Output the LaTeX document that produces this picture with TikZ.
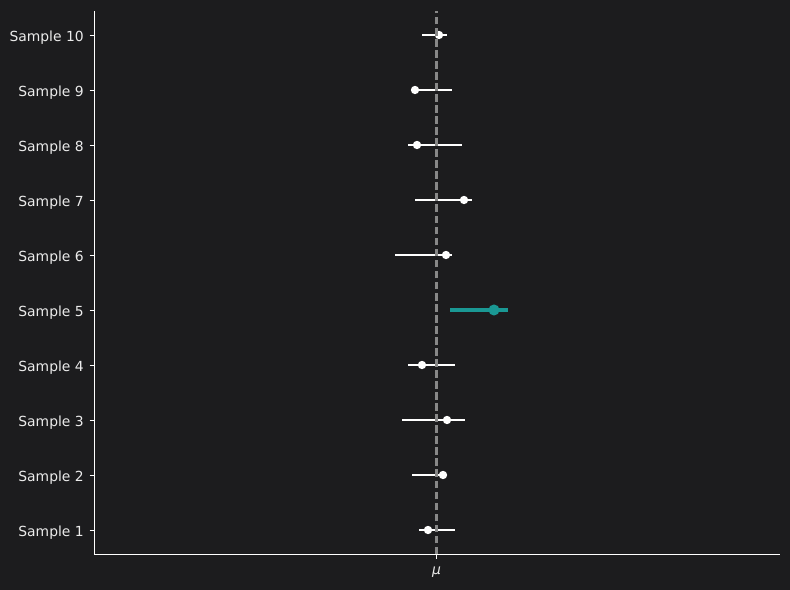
\documentclass[tikz,border=0pt]{standalone}
\usepackage{fontspec}
\setmainfont{DejaVu Sans}
\definecolor{bg}{RGB}{28,28,30}
\definecolor{fg}{RGB}{235,235,235}
\definecolor{dashgray}{RGB}{136,136,136}
\definecolor{tealc}{RGB}{26,152,148}
\begin{document}
\begin{tikzpicture}[x=0.72pt,y=-0.72pt,
  spine/.style={draw=white,line width=0.8pt},
  ytick/.style={draw=white,line width=0.8pt},
  ylab/.style={anchor=base east,text=fg,font=\fontsize{10}{12}\selectfont,inner sep=0pt},
  errbar/.style={draw=white,line width=1.5pt},
  hlbar/.style={draw=tealc,line width=2.5pt},
  dotw/.style={circle,fill=white,inner sep=0pt,minimum size=6pt},
  dott/.style={circle,fill=tealc,inner sep=0pt,minimum size=8pt},
  refline/.style={draw=dashgray,line width=1.5pt,dash pattern=on 5.55pt off 2.4pt}]
\fill[bg] (0,0) rectangle (790,590);
\useasboundingbox (0,0) rectangle (790,590);
% axes
\coordinate (axtop) at (94.5,11);
\coordinate (axorigin) at (94.5,554.5);
\coordinate (axright) at (780,554.5);
\draw[spine] (axtop) -- (axorigin) -- (axright);
% rows: index / lo / hi / point
\foreach \i/\lo/\hi/\pt in {1/419/455/428, 2/412/446/443, 3/402/465/447, 4/408/455/422,
  6/395/452/446, 7/415/472/464, 8/408/462/417, 9/414/452/415, 10/422/447/439}{
  \pgfmathsetmacro{\yy}{530-55*(\i-1)}
  \pgfmathsetmacro{\yb}{\yy+6.2}
  \coordinate (tk\i) at (89.5,\yy+0.5);
  \coordinate (sp\i) at (94.5,\yy+0.5);
  \draw[ytick] (tk\i) -- (sp\i);
  \node[ylab] (lab\i) at (84,\yb) {Sample \i};
  \coordinate (lo\i) at (\lo,\yy);
  \coordinate (hi\i) at (\hi,\yy);
  \draw[errbar] (lo\i) -- (hi\i);
  \node[dotw] (pt\i) at (\pt,\yy) {};
}
% highlighted sample 5
\coordinate (tk5) at (89.5,310.5);
\coordinate (sp5) at (94.5,310.5);
\draw[ytick] (tk5) -- (sp5);
\node[ylab] (lab5) at (84,316.2) {Sample 5};
\coordinate (lo5) at (450,310);
\coordinate (hi5) at (508,310);
\draw[hlbar] (lo5) -- (hi5);
\node[dott] (pt5) at (494,310) {};
% reference line
\coordinate (mubot) at (436.5,554.5);
\coordinate (mutop) at (436.5,11);
\draw[refline] (mubot) -- (mutop);
% x tick
\coordinate (xtk) at (436.5,559.5);
\draw[ytick] (mubot) -- (xtk);
\node[anchor=base,text=fg,inner sep=0pt,font=\fontsize{10}{12}\selectfont\itshape] (mulab) at (436.5,574.5) {μ};
\end{tikzpicture}
\end{document}
